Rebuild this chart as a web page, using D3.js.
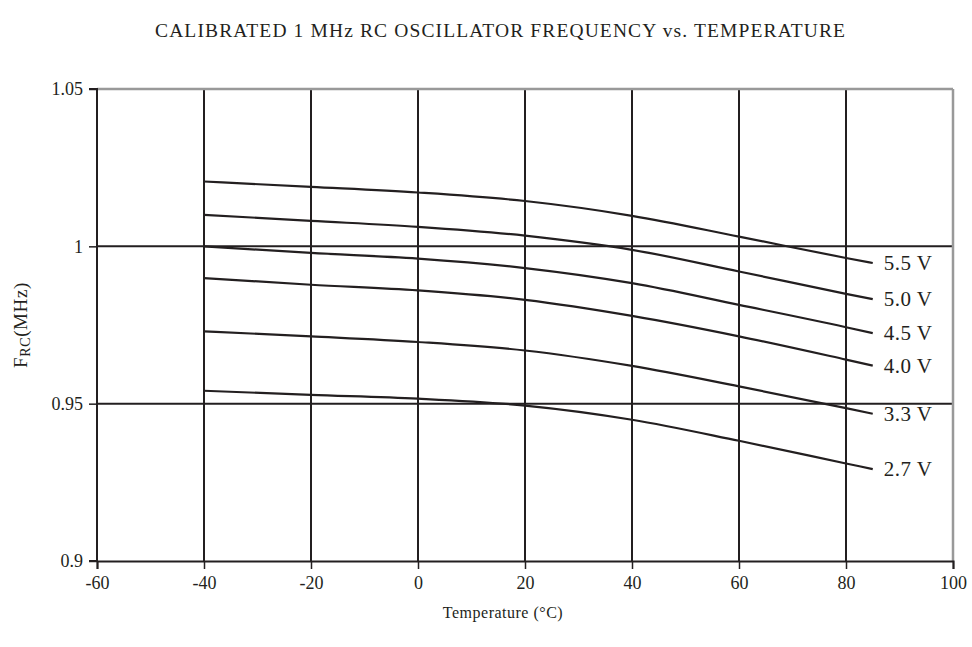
<!DOCTYPE html>
<html>
<head>
<meta charset="utf-8">
<script src="https://cdn.jsdelivr.net/npm/d3@7"></script>
<style>
  body { margin: 0; background: #fff; }
  svg { display: block; font-family: "Liberation Serif", "Times New Roman", serif; }
</style>
</head>
<body>
<svg id="chart" width="972" height="647"></svg>
<script>
const temps = [-40, -20, 0, 20, 40, 60, 80, 85];
const v55 = [1.0206, 1.0189, 1.0171, 1.0144, 1.0097, 1.0031, 0.9963, 0.9947];
const v50 = [1.0100, 1.0081, 1.0062, 1.0034, 0.9989, 0.9920, 0.9849, 0.9832];
const v45 = [1.0000, 0.9979, 0.9961, 0.9931, 0.9883, 0.9814, 0.9743, 0.9724];
const v40 = [0.9899, 0.9878, 0.9860, 0.9830, 0.9779, 0.9714, 0.9640, 0.9621];
const v33 = [0.9730, 0.9714, 0.9696, 0.9669, 0.9620, 0.9555, 0.9486, 0.9468];
const v27 = [0.9541, 0.9528, 0.9516, 0.9494, 0.9449, 0.9382, 0.9310, 0.9292];
const seriesNames = ["5.5 V", "5.0 V", "4.5 V", "4.0 V", "3.3 V", "2.7 V"];
const seriesValues = [v55, v50, v45, v40, v33, v27];
const xTicks = [-60, -40, -20, 0, 20, 40, 60, 80, 100];
const xTickLabels = ["-60", "-40", "-20", "0", "20", "40", "60", "80", "100"];
const yTicks = [0.9, 0.95, 1, 1.05];
const yTickLabels = ["0.9", "0.95", "1", "1.05"];

const W = 972, H = 647;
const m = { left: 97, right: 19, top: 89, bottom: 86 };
const svg = d3.select("#chart");

const x = d3.scaleLinear().domain([-60, 100]).range([m.left, W - m.right]);
const y = d3.scaleLinear().domain([0.9, 1.05]).range([H - m.bottom, m.top]);

const ink = "#231f20";

// title
svg.append("text")
  .attr("x", 500).attr("y", 37)
  .attr("text-anchor", "middle")
  .attr("font-size", 19.5)
  .attr("fill", ink)
  .attr("textLength", 690).attr("lengthAdjust", "spacing")
  .text("CALIBRATED 1 MHz RC OSCILLATOR FREQUENCY vs. TEMPERATURE");

// vertical gridlines
svg.append("g").selectAll("line")
  .data(xTicks.filter(d => d > -60 && d < 100))
  .join("line")
  .attr("x1", d => x(d)).attr("x2", d => x(d))
  .attr("y1", y(1.05)).attr("y2", y(0.9))
  .attr("stroke", ink).attr("stroke-width", 2);

// horizontal gridlines
svg.append("g").selectAll("line")
  .data([0.95, 1])
  .join("line")
  .attr("x1", x(-60)).attr("x2", x(100))
  .attr("y1", d => y(d)).attr("y2", d => y(d))
  .attr("stroke", ink).attr("stroke-width", 2);

// top & right border (gray)
svg.append("line")
  .attr("x1", x(-60)).attr("x2", x(100)).attr("y1", y(1.05)).attr("y2", y(1.05))
  .attr("stroke", "#999").attr("stroke-width", 2.5);
svg.append("line")
  .attr("x1", x(100)).attr("x2", x(100)).attr("y1", y(1.05)).attr("y2", y(0.9))
  .attr("stroke", "#999").attr("stroke-width", 2.5);

// axes
const xAxis = d3.axisBottom(x).tickValues(xTicks).tickSize(8).tickPadding(7)
  .tickFormat((d, i) => xTickLabels[i]);
const gx = svg.append("g").attr("transform", `translate(0,${y(0.9)})`).call(xAxis);
const yAxis = d3.axisLeft(y).tickValues(yTicks).tickSize(8).tickPadding(6)
  .tickFormat((d, i) => yTickLabels[i]);
const gy = svg.append("g").attr("transform", `translate(${x(-60)},0)`).call(yAxis);

[gx, gy].forEach(g => {
  g.attr("font-family", "'Liberation Serif', serif");
  g.selectAll(".domain").attr("stroke", ink).attr("stroke-width", 2);
  g.selectAll(".tick line").attr("stroke", ink).attr("stroke-width", 1.5);
  g.selectAll(".tick text").attr("font-size", 18).attr("fill", ink);
});
gy.select(".domain").attr("d", `M-8,${y(1.05)}H0V${y(0.9)}H-8`);

// curves
const line = d3.line()
  .x((d, i) => x(temps[i]))
  .y(d => y(d))
  .curve(d3.curveMonotoneX);

svg.append("g").selectAll("path")
  .data(seriesValues)
  .join("path")
  .attr("d", d => line(d))
  .attr("fill", "none")
  .attr("stroke", ink)
  .attr("stroke-width", 2.2);

// right labels
svg.append("g").selectAll("text")
  .data(seriesValues)
  .join("text")
  .attr("x", x(temps[temps.length - 1]) + 11)
  .attr("y", d => y(d[d.length - 1]) + 7)
  .attr("font-size", 21)
  .attr("letter-spacing", 0.5)
  .attr("fill", ink)
  .text((d, i) => seriesNames[i]);

// axis titles
svg.append("text")
  .attr("x", 503).attr("y", 618)
  .attr("text-anchor", "middle")
  .attr("font-size", 16)
  .attr("letter-spacing", 0.5)
  .attr("fill", ink)
  .text("Temperature (°C)");

const yl = svg.append("text")
  .attr("transform", `translate(27,${(y(1.05) + y(0.9)) / 2}) rotate(-90)`)
  .attr("text-anchor", "middle")
  .attr("font-size", 19)
  .attr("letter-spacing", 0.6)
  .attr("fill", ink);
yl.append("tspan").text("F");
yl.append("tspan").attr("font-size", 14).attr("dy", 3).text("RC");
yl.append("tspan").attr("dy", -3).text("(MHz)");
</script>
</body>
</html>
